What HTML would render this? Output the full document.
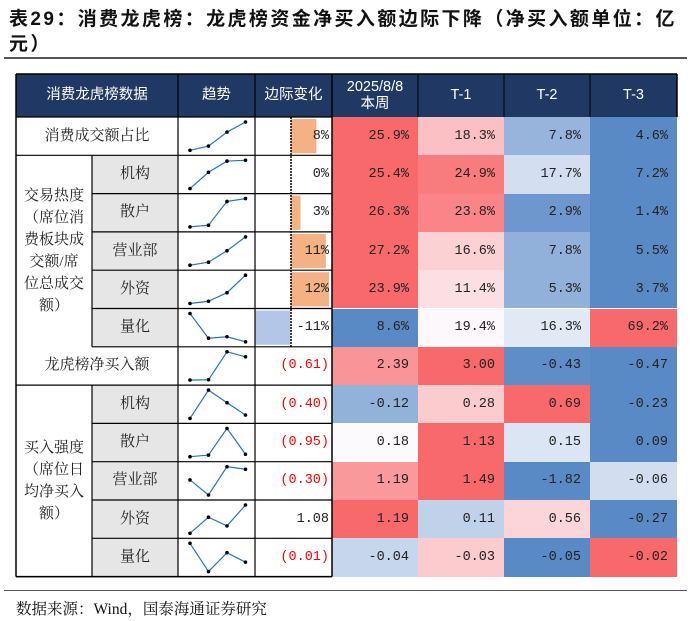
<!DOCTYPE html>
<html><head><meta charset="utf-8"><style>
body{margin:0;width:691px;height:621px;background:#fff;position:relative;overflow:hidden;font-family:"Liberation Serif","Noto Serif CJK SC",serif;}
.c{position:absolute;box-sizing:border-box;display:flex;align-items:center;justify-content:center;font-size:15px;color:#222;text-align:center;line-height:21px;z-index:1}
.n{font-family:"Liberation Mono","Noto Serif CJK SC",monospace;font-size:13.5px}
.h{background:#1f3864;color:#fff;font-family:"Liberation Sans","Noto Sans CJK SC",sans-serif;font-size:14.5px}
#title{position:absolute;left:9px;top:7px;width:682px;font-family:"Liberation Sans","Noto Sans CJK SC",sans-serif;font-weight:bold;font-size:19px;line-height:25px;color:#111;letter-spacing:2.4px}
svg{position:absolute;left:0;top:0;pointer-events:none}
</style></head><body>
<div id="title">表29：消费龙虎榜：龙虎榜资金净买入额边际下降（净买入额单位：亿元）</div>
<div style="position:absolute;left:4px;top:57px;width:683px;height:1.5px;background:#555"></div>
<svg id="bg" width="691" height="621" style="z-index:0"></svg>
<svg id="svg" width="691" height="621" style="z-index:2"></svg>
<div style="position:absolute;left:4px;top:590px;width:683px;height:1px;background:#555"></div>
<div style="position:absolute;left:16px;top:597px;font-size:15.5px;color:#111">数据来源：Wind，国泰海通证券研究</div>
<script>
const rowLabels=["消费成交额占比","机构","散户","营业部","外资","量化","龙虎榜净买入额","机构","散户","营业部","外资","量化"];
const colHeaders=["2025/8/8\n本周","T-1","T-2","T-3"];
const vNow=[25.9,25.4,26.3,27.2,23.9,8.6,2.39,-0.12,0.18,1.19,1.19,-0.04];
const vT1=[18.3,24.9,23.8,16.6,11.4,19.4,3.00,0.28,1.13,1.49,0.11,-0.03];
const vT2=[7.8,17.7,2.9,7.8,5.3,16.3,-0.43,0.69,0.15,-1.82,0.56,-0.05];
const vT3=[4.6,7.2,1.4,5.5,3.7,69.2,-0.47,-0.23,0.09,-0.06,-0.27,-0.02];
const marginal=[8,0,3,11,12,-11,-0.61,-0.40,-0.95,-0.30,1.08,-0.01];
const marginalLabels=["8%","0%","3%","11%","12%","-11%","(0.61)","(0.40)","(0.95)","(0.30)","1.08","(0.01)"];
const pct=[1,1,1,1,1,1,0,0,0,0,0,0];

const svg=document.getElementById('svg');const bg=document.getElementById('bg');const NS='http://www.w3.org/2000/svg';
const cols=[16,92,178,255,332,418,504,590,677];
const top0=74,headH=43,rowH=38.3;
const rowY=i=>top0+headH+i*rowH;
function div(x,y,w,h,cls,txt,style){const d=document.createElement('div');d.className='c '+(cls||'');
d.style.cssText=`left:${x}px;top:${y}px;width:${w}px;height:${h}px;`+(style||'');d.innerText=txt||'';document.body.appendChild(d);return d;}
function el(t,a,p){const e=document.createElementNS(NS,t);for(const k in a)e.setAttribute(k,a[k]);(p||svg).appendChild(e);return e;}
const hh=[["消费龙虎榜数据",cols[0],cols[2]],["趋势",cols[2],cols[3]],["边际变化",cols[3],cols[4]]];
hh.forEach((h,i)=>{const d=div(h[1],top0,h[2]-h[1],headH,'h',h[0]);

});
colHeaders.forEach((t,i)=>{const d=div(cols[4+i],top0,cols[5+i]-cols[4+i],headH,'h',t,'line-height:17px');

});
function grpLabel(txt,r0,r1,name){const d=div(cols[0],rowY(r0),cols[1]-cols[0],rowY(r1)-rowY(r0),'',txt,'padding:0 7px;line-height:22px');

}
[0,6].forEach(i=>{const d=div(cols[0],rowY(i),cols[2]-cols[0],rowH,'',rowLabels[i]);

});
grpLabel("交易热度（席位消费板块成交额/席位总成交额）",1,6,'group-label-heat');
grpLabel("买入强度（席位日均净买入额）",7,12,'group-label-strength');
rowLabels.forEach((t,i)=>{if(i==0||i==6)return;
const d=div(cols[1],rowY(i),cols[2]-cols[1],rowH,'',t,'background:#e6e6e6;z-index:0');

});
function lerp(a,b,t){return a.map((v,k)=>Math.round(v+(b[k]-v)*t));}
const RED=[248,105,107],WHITE=[252,252,255],BLUE=[90,138,198];
const series=[vNow,vT1,vT2,vT3];
for(let i=0;i<12;i++){const vals=series.map(s=>s[i]);const srt=[...vals].sort((a,b)=>a-b);
const mn=srt[0],mx=srt[3],md=(srt[1]+srt[2])/2;
series.forEach((s,j)=>{const v=s[i];let c;
if(v>=md)c=lerp(WHITE,RED,mx>md?(v-md)/(mx-md):0);else c=lerp(WHITE,BLUE,md>mn?(md-v)/(md-mn):0);
const txt=pct[i]?v.toFixed(1)+'%':v.toFixed(2);
const d=div(cols[4+j],rowY(i),cols[5+j]-cols[4+j],rowH,'n',txt,`background:rgb(${c});justify-content:flex-end;padding-right:9px;z-index:0`);

});}
const axisX=291,barScale=38/12;
for(let i=0;i<12;i++){const y=rowY(i);
if(pct[i]){const v=marginal[i];const w=Math.abs(v)*barScale;
const r=el('rect',{x:v>=0?axisX:axisX-w-1,y:y+2,width:w,height:rowH-4,fill:v>=0?'#f4b183':'#b4c6e7'},bg);

}
const neg=!pct[i]&&marginal[i]<0;
const d=div(cols[3],y,cols[4]-cols[3],rowH,'n',marginalLabels[i],'justify-content:flex-end;padding-right:3px;color:'+(neg?'#ff0000':'#222'));

}
const ax=el('line',{x1:axisX,y1:rowY(0),x2:axisX,y2:rowY(6),stroke:'#000','stroke-dasharray':'2,1','stroke-width':1.5});


for(let i=0;i<12;i++){const vals=[vT3[i],vT2[i],vT1[i],vNow[i]];
const mn=Math.min(...vals),mx=Math.max(...vals);const y0=rowY(i);
const X=k=>190+k*18.5,Y=v=>y0+rowH-5-(mx>mn?(v-mn)/(mx-mn):0.5)*(rowH-10);
const pts=vals.map((v,k)=>X(k)+','+Y(v)).join(' ');
const pl=el('polyline',{points:pts,fill:'none',stroke:'#1f77c8','stroke-width':1.2});


vals.forEach((v,k)=>{const c=el('circle',{cx:X(k),cy:Y(v),r:1.8,fill:'#000'});

});}
const L=(x1,y1,x2,y2,w)=>el('line',{x1,y1,x2,y2,stroke:'#000','stroke-width':w||1.2});
const bottom=rowY(12);
for(let i=0;i<=12;i++){const y=rowY(i);
const x0=(i>=2&&i<=6)||(i>=8&&i<12)?cols[1]:cols[0];L(x0,y,cols[4],y);}
L(cols[0],bottom,cols[4],bottom,1.5);
L(cols[0],top0,cols[0],bottom,1.5);
L(cols[1],rowY(1),cols[1],rowY(6));L(cols[1],rowY(7),cols[1],bottom);
[2,3].forEach(k=>L(cols[k],top0,cols[k],bottom));
L(cols[4],top0,cols[4],bottom,1.5);
L(cols[0],top0,cols[8],top0,1.5);
L(cols[8],top0,cols[8],top0+headH,1.5);
for(let k=4;k<8;k++)L(cols[k],top0,cols[k],top0+headH,1);
</script>
</body></html>
